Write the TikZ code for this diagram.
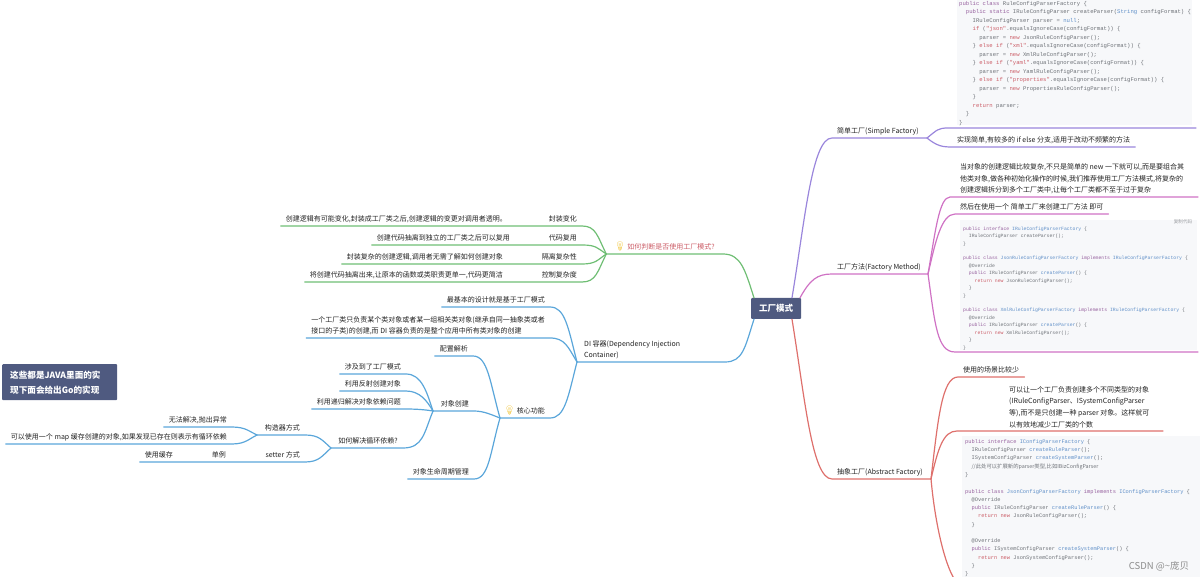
\documentclass[tikz,border=0pt]{standalone}
\usepackage{fontspec}
\setmainfont{Noto Sans CJK SC}
\newfontfamily\codefont{Liberation Mono}
\newfontfamily\emojifont{Noto Emoji}
\usetikzlibrary{calc}
\definecolor{rootc}{HTML}{4F5A80}
\definecolor{simplec}{HTML}{9A86DC}
\definecolor{methodc}{HTML}{CF72C4}
\definecolor{abstractc}{HTML}{DE706C}
\definecolor{judgec}{HTML}{6FBE74}
\definecolor{corec}{HTML}{5AA6DA}
\definecolor{textc}{HTML}{222222}
\definecolor{codec}{HTML}{6E7278}
\definecolor{codebg}{HTML}{F7F8FA}
\definecolor{kwc}{HTML}{96609E}
\definecolor{krc}{HTML}{CB5C66}
\definecolor{tyc}{HTML}{5F8FC8}
\definecolor{bulbc}{HTML}{EFC233}
\newcommand{\kw}[1]{\textcolor{kwc}{#1}}
\newcommand{\kr}[1]{\textcolor{krc}{#1}}
\newcommand{\ty}[1]{\textcolor{tyc}{#1}}
\newcommand{\bulb}{\textcolor{bulbc}{\emojifont\fontsize{9}{9}\selectfont\symbol{"1F4A1}}}
\begin{document}
\begin{tikzpicture}[x=1pt,y=-1pt,
leaf/.style={inner xsep=5pt,inner ysep=3.5pt,text height=6pt,text depth=1pt,font=\fontsize{7}{8}\selectfont,text=textc},
para/.style={inner xsep=5pt,inner ysep=3pt,align=left,font=\fontsize{7}{11.3}\selectfont,text=textc},
root/.style={fill=rootc,rounded corners=1pt,text=white,font=\fontsize{8.5}{12}\selectfont\bfseries,minimum width=50pt,minimum height=21pt,inner sep=0pt},
notebox/.style={fill=rootc,rounded corners=1pt,text=white,font=\fontsize{8.6}{15}\selectfont\bfseries,align=left,anchor=north west,text width=99pt,minimum height=36pt,inner xsep=8pt,inner ysep=0pt},
codebox/.style={fill=codebg,anchor=north west,inner sep=0pt},
codea/.style={anchor=west,inner sep=0pt,text=codec,font=\codefont\fontsize{5.6}{6}\selectfont},
codeb/.style={anchor=west,inner sep=0pt,text=codec,font=\codefont\fontsize{4.8}{6}\selectfont},
codec/.style={anchor=west,inner sep=0pt,text=codec,font=\codefont\fontsize{5.35}{6}\selectfont},
br/.style={line width=1.2pt,line cap=round,line join=round},
simple/.style={br,draw=simplec},
method/.style={br,draw=methodc},
abstract/.style={br,draw=abstractc},
judge/.style={br,draw=judgec},
core/.style={br,draw=corec}]
\useasboundingbox (0,0) rectangle (1200,577);
\clip (0,0) rectangle (1200,577);
% code blocks
\node (bgA) at (957,-2) [codebox,minimum width=235pt,minimum height=127pt] {};
\node (bgB) at (960,220) [codebox,minimum width=237pt,minimum height=130pt] {};
\node (bgC) at (962,436) [codebox,minimum width=240pt,minimum height=145pt] {};
\foreach \ind/\txt [count=\i] in {
0/{\kw{public class} RuleConfigParserFactory \{},
1/{\kw{public static} IRuleConfigParser createParser(\ty{String} configFormat) \{},
2/{IRuleConfigParser parser = \ty{null};},
2/{\kr{if} (\kr{"json"}.equalsIgnoreCase(configFormat)) \{},
3/{parser = \kr{new} JsonRuleConfigParser();},
2/{\} \kr{else if} (\kr{"xml"}.equalsIgnoreCase(configFormat)) \{},
3/{parser = \kr{new} XmlRuleConfigParser();},
2/{\} \kr{else if} (\kr{"yaml"}.equalsIgnoreCase(configFormat)) \{},
3/{parser = \kr{new} YamlRuleConfigParser();},
2/{\} \kr{else if} (\kr{"properties"}.equalsIgnoreCase(configFormat)) \{},
3/{parser = \kr{new} PropertiesRuleConfigParser();},
2/{\}},
2/{\kr{return} parser;},
1/{\}},
0/{\}}} {
\node (a\i) at ({959+6.72*\ind},{4+8.5*(\i-1)}) [codea] {\txt};
}
\foreach \ind/\txt [count=\i] in {
0/{\kw{public interface} \ty{IRuleConfigParserFactory} \{},
1/{IRuleConfigParser createParser();},
0/{\}},
0/{},
0/{\kw{public class} \ty{JsonRuleConfigParserFactory} \kw{implements} \ty{IRuleConfigParserFactory} \{},
1/{@Override},
1/{\kw{public} IRuleConfigParser \ty{createParser}() \{},
2/{\kr{return new} JsonRuleConfigParser();},
1/{\}},
0/{\}},
0/{},
0/{\kw{public class} \ty{XmlRuleConfigParserFactory} \kw{implements} \ty{IRuleConfigParserFactory} \{},
1/{@Override},
1/{\kw{public} IRuleConfigParser \ty{createParser}() \{},
2/{\kr{return new} XmlRuleConfigParser();},
1/{\}},
0/{\}}} {
\node (b\i) at ({963+5.76*\ind},{229+7.43*(\i-1)}) [codeb] {\txt};
}
\foreach \ind/\txt [count=\i] in {
0/{\kw{public interface} \ty{IConfigParserFactory} \{},
1/{IRuleConfigParser \ty{createRuleParser}();},
1/{ISystemConfigParser \ty{createSystemParser}();},
1/{{\rmfamily //此处可以扩展新的parser类型,比如IBizConfigParser}},
0/{\}},
0/{},
0/{\kw{public class} \ty{JsonConfigParserFactory} \kw{implements} \ty{IConfigParserFactory} \{},
1/{@Override},
1/{\kw{public} IRuleConfigParser \ty{createRuleParser}() \{},
2/{\kr{return new} JsonRuleConfigParser();},
1/{\}},
0/{},
1/{@Override},
1/{\kw{public} ISystemConfigParser \ty{createSystemParser}() \{},
2/{\kr{return new} JsonSystemConfigParser();},
1/{\}},
0/{\}}} {
\node (c\i) at ({965+6.42*\ind},{442+8.27*(\i-1)}) [codec] {\txt};
}
\node (copy) at (1183,222) [inner sep=0pt,text=codec!70,font=\fontsize{4.6}{5}\selectfont] {复制代码};
% root and the note
\node (R) at (776,308.5) [root] {工厂模式};
\node (note) at (2,364) [notebox] {这些都是JAVA里面的实\\现下面会给出Go的实现};
% right side, simple factory
\node (S) at (832,138) [leaf,anchor=south west] {简单工厂(Simple Factory)};
\coordinate (hubS) at (927,138);
\coordinate (s1a) at (948,128);
\coordinate (s1b) at (1196,128);
\node (s2) at (952,147) [leaf,anchor=south west] {实现简单,有较多的 if else 分支,适用于改动不频繁的方法};
\draw[simple] ($(R.north)+(16,0)$) .. controls +(13,-78) and +(-20,0) .. (S.south west) -- (S.south east) -- (hubS);
\draw[simple] (hubS) .. controls +(10,-8) and +(-10,0) .. (s1a) -- (s1b);
\draw[simple] (hubS) .. controls +(10,8) and +(-10,0) .. (s2.south west) -- (s2.south east);
% right side, factory method
\node (M) at (832,274) [leaf,anchor=south west] {工厂方法(Factory Method)};
\coordinate (hubM) at (928,274);
\node (m1) at (950,197) [para,anchor=south west,inner xsep=10pt] {当对象的创建逻辑比较复杂,不只是简单的 new 一下就可以,而是要组合其\\他类对象,做各种初始化操作的时候,我们推荐使用工厂方法模式,将复杂的\\创建逻辑拆分到多个工厂类中,让每个工厂类都不至于过于复杂};
\coordinate (m1e) at (1198,197);
\node (m2) at (955,214) [leaf,anchor=south west] {然后在使用一个 简单工厂来创建工厂方法 即可};
\coordinate (m3a) at (955,352);
\coordinate (m3b) at (1198,352);
\draw[method] ($(R.north)+(24,0)$) .. controls +(10,-18) and +(-15,0) .. (M.south west) -- (M.south east) -- (hubM);
\draw[method] (hubM) .. controls +(7,-40) and +(-11,0) .. (m1.south west) -- (m1e);
\draw[method] (hubM) .. controls +(7,-30) and +(-14,0) .. (m2.south west) -- (m2.south east);
\draw[method] (hubM) .. controls +(7,50) and +(-18,0) .. (m3a) -- (m3b);
% right side, abstract factory
\node (A) at (832,479) [leaf,anchor=south west] {抽象工厂(Abstract Factory)};
\coordinate (hubA) at (931,479);
\node (a1n) at (958,377) [leaf,anchor=south west] {使用的场景比较少};
\node (a2n) at (957,431) [para,anchor=south west,inner xsep=52pt,font=\fontsize{7}{11.7}\selectfont] {可以让一个工厂负责创建多个不同类型的对象\\(IRuleConfigParser、ISystemConfigParser\\等),而不是只创建一种 parser 对象。这样就可\\以有效地减少工厂类的个数};
\coordinate (a2e) at (1163,431);
\coordinate (a3a) at (965,588);
\draw[abstract] ($(R.south)+(16,0)$) .. controls +(13,80) and +(-20,0) .. (A.south west) -- (A.south east) -- (hubA);
\draw[abstract] (hubA) .. controls +(7,-60) and +(-16,0) .. (a1n.south west) -- (a1n.south east);
\draw[abstract] (hubA) .. controls +(7,-30) and +(-14,0) .. (a2n.south west) -- (a2e);
\draw[abstract] (hubA) .. controls +(5,55) and +(-15,0) .. (a3a);
% left side, when to use
\node (J) at (723,254) [leaf,anchor=south east,inner xsep=8pt,text=krc] {\bulb\ 如何判断是否使用工厂模式?};
\node (j1) at (582,226) [leaf,anchor=south east] {封装变化};
\node (j1t) at (512,226) [leaf,anchor=south east] {创建逻辑有可能变化,封装成工厂类之后,创建逻辑的变更对调用者透明。};
\node (j2) at (582,245) [leaf,anchor=south east] {代码复用};
\node (j2t) at (515,245) [leaf,anchor=south east] {创建代码抽离到独立的工厂类之后可以复用};
\node (j3) at (582,264) [leaf,anchor=south east] {隔离复杂性};
\node (j3t) at (508,264) [leaf,anchor=south east] {封装复杂的创建逻辑,调用者无需了解如何创建对象};
\node (j4) at (582,282) [leaf,anchor=south east] {控制复杂度};
\node (j4t) at (508,282) [leaf,anchor=south east] {将创建代码抽离出来,让原本的函数或类职责更单一,代码更简洁};
\draw[judge] ($(R.north)+(-22,0)$) .. controls +(-9,-28) and +(18,0) .. (J.south east) -- (J.south west);
\draw[judge] (J.south west) .. controls +(-9,-18) and +(14,0) .. (j1.south east) -- (j1t.south west);
\draw[judge] (J.south west) .. controls +(-9,-6) and +(14,0) .. (j2.south east) -- (j2t.south west);
\draw[judge] (J.south west) .. controls +(-9,6) and +(14,0) .. (j3.south east) -- (j3t.south west);
\draw[judge] (J.south west) .. controls +(-9,18) and +(14,0) .. (j4.south east) -- (j4t.south west);
% left side, DI container
\node (D) at (577,362) [para,anchor=south west,inner xsep=7pt] {DI 容器(Dependency Injection\\Container)};
\coordinate (dEnd) at (725,362);
\node (d1) at (550,307) [leaf,anchor=south east] {最基本的设计就是基于工厂模式};
\node (d2) at (550,338) [para,anchor=south east] {一个工厂类只负责某个类对象或者某一组相关类对象(继承自同一抽象类或者\\接口的子类)的创建,而 DI 容器负责的是整个应用中所有类对象的创建};
\draw[core] ($(R.south)+(-22,0)$) .. controls +(-9,28) and +(18,0) .. (dEnd) -- (D.south west);
\draw[core] (D.south west) .. controls +(-9,-35) and +(15,0) .. (d1.south east) -- (d1.south west);
\draw[core] (D.south west) .. controls +(-9,-15) and +(15,0) .. (d2.south east) -- (d2.south west);
% core functions
\node (C) at (550,418) [leaf,anchor=south east] {\bulb\ 核心功能};
\coordinate (hubC) at (500,418);
\node (c1n) at (473,356) [leaf,anchor=south east] {配置解析};
\node (c2n) at (474,411) [leaf,anchor=south east] {对象创建};
\node (c3n) at (474,479) [leaf,anchor=south east] {对象生命周期管理};
\coordinate (hubO) at (433,411);
\draw[core] (D.south west) .. controls +(-9,35) and +(15,0) .. (C.south east) -- (hubC);
\draw[core] (hubC) .. controls +(-10,-35) and +(15,0) .. (c1n.south east) -- (c1n.south west);
\draw[core] (hubC) .. controls +(-8,-3) and +(10,0) .. (c2n.south east) -- (hubO);
\draw[core] (hubC) .. controls +(-10,35) and +(15,0) .. (c3n.south east) -- (c3n.south west);
% object creation
\node (o1) at (406,374) [leaf,anchor=south east] {涉及到了工厂模式};
\node (o2) at (406,391) [leaf,anchor=south east] {利用反射创建对象};
\node (o3) at (406,409) [leaf,anchor=south east] {利用递归解决对象依赖问题};
\node (o4) at (403,448) [leaf,anchor=south east] {如何解决循环依赖?};
\coordinate (hubX) at (331,448);
\draw[core] (hubO) .. controls +(-6,-18) and +(16,0) .. (o1.south east) -- (o1.south west);
\draw[core] (hubO) .. controls +(-6,-10) and +(14,0) .. (o2.south east) -- (o2.south west);
\draw[core] (hubO) .. controls +(-6,-1) and +(12,0) .. (o3.south east) -- (o3.south west);
\draw[core] (hubO) .. controls +(-9,22) and +(20,0) .. (o4.south east) -- (hubX);
% circular dependency
\node (x1) at (305,435) [leaf,anchor=south east] {构造器方式};
\coordinate (hubG) at (257,435);
\node (x2) at (305,462) [leaf,anchor=south east] {setter 方式};
\node (x3) at (231,462) [leaf,anchor=south east] {单例};
\node (x4) at (178,462) [leaf,anchor=south east] {使用缓存};
\node (g1) at (232,427) [leaf,anchor=south east] {无法解决,抛出异常};
\node (g2) at (232,444) [leaf,anchor=south east] {可以使用一个 map 缓存创建的对象,如果发现已存在则表示有循环依赖};
\draw[core] (hubX) .. controls +(-9,-8) and +(14,0) .. (x1.south east) -- (hubG);
\draw[core] (hubX) .. controls +(-9,8) and +(14,0) .. (x2.south east) -- (x4.south west);
\draw[core] (hubG) .. controls +(-7,-3) and +(14,0) .. (g1.south east) -- (g1.south west);
\draw[core] (hubG) .. controls +(-7,3) and +(14,0) .. (g2.south east) -- (g2.south west);
\node (mark) at (1159,566) [inner sep=0pt,text=black!45,font=\fontsize{9.5}{10}\selectfont] {CSDN @\textasciitilde 庞贝};
\end{tikzpicture}
\end{document}
